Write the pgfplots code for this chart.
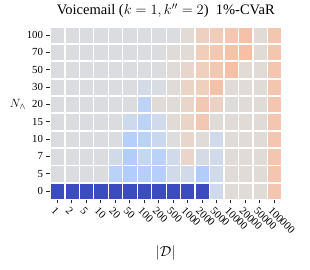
\documentclass[border=0pt]{standalone}
\usepackage{pgfplots}
\pgfplotsset{compat=1.18}
\usepackage{fontspec}
\setmainfont{Liberation Serif}
\begin{document}
\begin{tikzpicture}
\begin{axis}[
  at={(0,0)}, anchor=south west,
  scale only axis,
  width=231.5pt, height=173.5pt,
  xmin=-0.5, xmax=15.5, ymin=-0.5, ymax=9.5,
  axis line style={draw=none},
  tick pos=left,
  tick align=outside,
  major tick length=3.5pt,
  tick style={line width=0.8pt, color=black!85},
  xtick={0,...,15},
  xticklabels={1,2,5,10,20,50,100,200,500,1000,2000,5000,10000,20000,50000,100000},
  ytick={0,...,9},
  yticklabels={0,5,7,10,15,20,30,50,70,100},
  /pgf/number format/assume math mode=true,
  ticklabel style={font=\fontsize{10.8}{12}\selectfont},
  xticklabel style={rotate=-45, anchor=north west, inner sep=1pt, yshift=-2pt},
  yticklabel style={anchor=east},
  colormap={coolwarm}{
    rgb255(0)=(59,76,192); rgb255(1)=(68,90,204); rgb255(2)=(77,104,215); rgb255(3)=(87,117,225);
    rgb255(4)=(98,130,234); rgb255(5)=(108,142,241); rgb255(6)=(119,154,247); rgb255(7)=(130,165,251);
    rgb255(8)=(141,176,254); rgb255(9)=(152,185,255); rgb255(10)=(163,194,255); rgb255(11)=(174,201,253);
    rgb255(12)=(184,208,249); rgb255(13)=(194,213,244); rgb255(14)=(204,217,238); rgb255(15)=(213,219,230);
    rgb255(16)=(221,221,221); rgb255(17)=(229,216,209); rgb255(18)=(236,211,197); rgb255(19)=(241,204,185);
    rgb255(20)=(245,196,173); rgb255(21)=(247,187,160); rgb255(22)=(247,177,148); rgb255(23)=(247,166,135);
    rgb255(24)=(244,154,123); rgb255(25)=(241,141,111); rgb255(26)=(236,127,99); rgb255(27)=(229,112,88);
    rgb255(28)=(222,96,77); rgb255(29)=(213,80,66); rgb255(30)=(203,62,56); rgb255(31)=(192,40,47);
    rgb255(32)=(180,4,38)},
  point meta min=0, point meta max=1,
  title={Voicemail ($k=1, k''=2$)\ \ 1\%-CVaR},
  title style={font=\fontsize{14.5}{16}\selectfont, at={(axis description cs:0.5,1)}, anchor=base, yshift=6pt},
  xlabel={$|\mathcal{D}|$},
  every axis x label/.style={at={(axis description cs:0.5,0)}, anchor=center, yshift=-53.5pt, font=\fontsize{14}{16}\selectfont},
  ylabel={$N_{\wedge}$},
  every axis y label/.style={at={(axis description cs:0,0)}, anchor=center, xshift=-32pt, yshift=95.3pt, font=\fontsize{13}{15}\selectfont},
]
\addplot[scatter, only marks, mark=square*, mark size=6.1pt,
  mark options={yscale=1.18, line width=0.2pt},
  scatter/use mapped color={draw=mapped color, fill=mapped color},
  point meta=explicit]
  table[meta=c] {
x y c
0 9 0.49
1 9 0.49
2 9 0.49
3 9 0.49
4 9 0.49
5 9 0.49
6 9 0.49
7 9 0.49
8 9 0.49
9 9 0.52
10 9 0.575
11 9 0.595
12 9 0.61
13 9 0.635
14 9 0.52
15 9 0.62
0 8 0.49
1 8 0.49
2 8 0.49
3 8 0.49
4 8 0.49
5 8 0.49
6 8 0.49
7 8 0.49
8 8 0.515
9 8 0.52
10 8 0.585
11 8 0.61
12 8 0.63
13 8 0.64
14 8 0.52
15 8 0.62
0 7 0.49
1 7 0.49
2 7 0.49
3 7 0.49
4 7 0.49
5 7 0.49
6 7 0.49
7 7 0.49
8 7 0.515
9 7 0.545
10 7 0.58
11 7 0.61
12 7 0.64
13 7 0.52
14 7 0.52
15 7 0.62
0 6 0.49
1 6 0.49
2 6 0.49
3 6 0.49
4 6 0.49
5 6 0.49
6 6 0.47
7 6 0.48
8 6 0.515
9 6 0.56
10 6 0.58
11 6 0.635
12 6 0.51
13 6 0.515
14 6 0.515
15 6 0.62
0 5 0.49
1 5 0.49
2 5 0.49
3 5 0.49
4 5 0.49
5 5 0.49
6 5 0.39
7 5 0.515
8 5 0.515
9 5 0.55
10 5 0.61
11 5 0.565
12 5 0.505
13 5 0.515
14 5 0.515
15 5 0.62
0 4 0.49
1 4 0.49
2 4 0.49
3 4 0.49
4 4 0.49
5 4 0.44
6 4 0.39
7 4 0.45
8 4 0.52
9 4 0.555
10 4 0.61
11 4 0.515
12 4 0.51
13 4 0.515
14 4 0.515
15 4 0.62
0 3 0.49
1 3 0.49
2 3 0.49
3 3 0.49
4 3 0.49
5 3 0.37
6 3 0.385
7 3 0.43
8 3 0.50
9 3 0.545
10 3 0.51
11 3 0.45
12 3 0.51
13 3 0.515
14 3 0.515
15 3 0.62
0 2 0.49
1 2 0.49
2 2 0.49
3 2 0.49
4 2 0.45
5 2 0.36
6 2 0.42
7 2 0.38
8 2 0.45
9 2 0.55
10 2 0.47
11 2 0.455
12 2 0.51
13 2 0.515
14 2 0.515
15 2 0.62
0 1 0.49
1 1 0.49
2 1 0.49
3 1 0.49
4 1 0.38
5 1 0.355
6 1 0.365
7 1 0.37
8 1 0.45
9 1 0.455
10 1 0.355
11 1 0.45
12 1 0.515
13 1 0.515
14 1 0.515
15 1 0.62
0 0 0.0
1 0 0.0
2 0 0.0
3 0 0.0
4 0 0.0
5 0 0.0
6 0 0.0
7 0 0.0
8 0 0.0
9 0 0.0
10 0 0.0
11 0 0.45
12 0 0.515
13 0 0.515
14 0 0.515
15 0 0.62
};
\end{axis}
\pgfresetboundingbox
\path[use as bounding box] (-50pt,-69.2pt) rectangle (260pt,199.8pt);
\end{tikzpicture}
\end{document}
